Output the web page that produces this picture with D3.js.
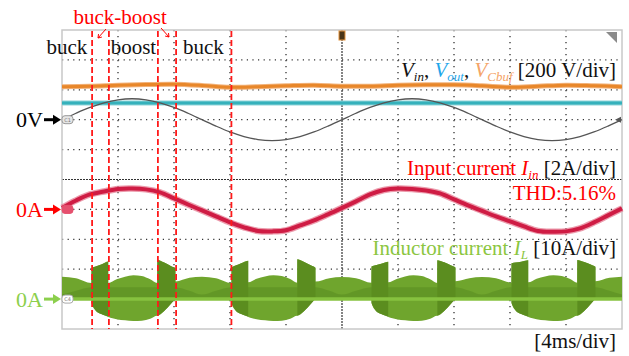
<!DOCTYPE html>
<html>
<head>
<meta charset="utf-8">
<script src="https://cdn.jsdelivr.net/npm/d3@7"></script>
<style>
  body { margin: 0; background: #fff; }
  svg { display: block; }
</style>
</head>
<body>
<div class="scope"></div>
<script>
// ---- data (time in ms, 4 ms/div) ----
var timeTicks = [0, 4, 8, 12, 16, 20, 24, 28, 32, 36, 40];

// Vin [V], one sample per ms
var vinT = d3.range(0, 41);
var vin = [0, 43, 82, 113, 133, 140, 133, 113, 82, 43, 0, -43, -82, -113, -133, -140, -133, -113, -82, -43,
           0, 43, 82, 113, 133, 140, 133, 113, 82, 43, 0, -43, -82, -113, -133, -140, -133, -113, -82, -43, 0];

// Vout [V]
var voutT = [0, 40];
var vout = [112, 112];

// VCbuf [V], every 2 ms
var vcbufT = [0, 2, 4, 6, 8, 10, 12, 14, 16, 18, 20, 22, 24, 26, 28, 30, 32, 34, 36, 38, 40];
var vcbuf = [221, 224, 231, 235, 237, 229, 217, 221, 227, 231, 224, 224, 231, 234, 234, 227, 217, 224, 231, 227, 221];

// Input current [A], one sample per ms
var iinT = d3.range(0, 41);
var iin = [0.1, 0.6, 1.0, 1.2, 1.37, 1.4, 1.34, 1.14, 0.74, 0.33, -0.07, -0.47, -0.87, -1.2, -1.44, -1.47, -1.4, -1.07, -0.74, -0.33,
           0.1, 0.54, 1.0, 1.3, 1.4, 1.37, 1.27, 1.07, 0.67, 0.27, -0.1, -0.47, -0.8, -1.14, -1.44, -1.5, -1.47, -1.27, -0.87, -0.4, 0.07];

// Inductor current envelope [A]
var ilT = [0, 1.0, 2.1,
  2.11, 2.4, 2.8, 3.3, 3.31, 3.9, 4.5, 5.1, 5.7, 6.3, 6.8, 6.81, 7.3, 7.8, 8.1, 8.11, 9.1, 10.0, 11.0, 12.1,
  12.11, 12.4, 12.8, 13.3, 13.31, 13.9, 14.5, 15.1, 15.7, 16.3, 16.8, 16.81, 17.3, 17.8, 18.1, 18.11, 19.1, 20.0, 21.0, 22.1,
  22.11, 22.4, 22.8, 23.3, 23.31, 23.9, 24.5, 25.1, 25.7, 26.3, 26.8, 26.81, 27.3, 27.8, 28.1, 28.11, 29.1, 30.0, 31.0, 32.1,
  32.11, 32.4, 32.8, 33.3, 33.31, 33.9, 34.5, 35.1, 35.7, 36.3, 36.8, 36.81, 37.3, 37.8, 38.1, 38.11, 39.1, 40.0];
var ilHigh = [7.5, 7.0, 5.4,
  10.4, 10.9, 11.6, 12.6, 5.4, 6.6, 7.5, 8.0, 7.7, 6.6, 5.4, 13.2, 12.2, 11.0, 10.4, 5.9, 7.1, 7.5, 7.0, 5.4,
  10.6, 11.2, 12.0, 12.8, 5.6, 6.8, 7.6, 8.0, 7.7, 6.7, 5.5, 13.3, 12.4, 11.2, 10.5, 5.9, 7.0, 7.4, 7.0, 5.5,
  10.9, 11.3, 11.8, 12.5, 5.6, 6.7, 7.6, 8.0, 7.7, 6.6, 5.4, 13.0, 12.3, 11.2, 10.6, 6.0, 7.0, 7.4, 7.0, 5.5,
  12.0, 12.2, 12.5, 13.0, 5.6, 6.8, 7.6, 8.0, 7.7, 6.7, 5.5, 13.1, 12.4, 11.5, 10.8, 6.0, 7.1, 7.5];
var ilLow = [0, 0, 0,
  -1.3, -3.8, -5.0, -5.9, -6.0, -6.7, -7.1, -7.3, -7.2, -6.6, -5.6, -5.6, -4.0, -1.5, 0, 0, 0, 0, 0, 0,
  -1.3, -3.8, -5.0, -5.9, -6.0, -6.7, -7.1, -7.3, -7.2, -6.6, -5.6, -5.6, -4.0, -1.5, 0, 0, 0, 0, 0, 0,
  -1.3, -3.8, -5.0, -5.9, -6.0, -6.7, -7.1, -7.3, -7.2, -6.6, -5.6, -5.6, -4.0, -1.5, 0, 0, 0, 0, 0, 0,
  -1.3, -3.8, -5.0, -5.9, -6.0, -6.7, -7.1, -7.3, -7.2, -6.6, -5.6, -5.6, -4.0, -1.5, 0, 0, 0, 0];

// buck-boost intervals (dense switching blocks) [ms]
var bbSpans = [[2.11, 3.3], [6.81, 8.1], [12.11, 13.3], [16.81, 18.1], [22.11, 23.3], [26.81, 28.1], [32.11, 33.3], [36.81, 38.1]];

// darker lower part inside buck intervals [A]
var buckInnerT = [0, 1.0, 2.1, 8.11, 9.1, 10.0, 11.0, 12.1, 18.11, 19.1, 20.0, 21.0, 22.1, 28.11, 29.1, 30.0, 31.0, 32.1, 38.11, 39.1, 40.0];
var buckInner = [1.5, 2.8, 4.0, 4.0, 2.8, 1.5, 2.8, 4.0, 4.0, 2.8, 1.5, 2.8, 4.0, 4.0, 2.8, 1.5, 2.8, 4.0, 4.0, 2.8, 1.5];

// operating mode boundaries [ms] and mode names
var modeLines = [2.15, 3.35, 6.85, 8.15, 12.1];
var modeNames = ["buck", "boost", "buck"];
var modeNameT = [0.35, 5.1, 10.1];

// ---- drawing ----
var W = 629, H = 356;
var svg = d3.select(".scope").append("svg").attr("width", W).attr("height", H)
  .style("font-family", "'Liberation Serif', 'Times New Roman', serif");

var x = d3.scaleLinear().domain([0, 40]).range([62, 622]);
var yDiv = d3.scaleLinear().domain([0, 10]).range([30, 329]);
var yV = d3.scaleLinear().domain([0, 200]).range([yDiv(3), yDiv(2)]);
var yI = d3.scaleLinear().domain([0, 2]).range([yDiv(6), yDiv(5)]);
var yL = d3.scaleLinear().domain([0, 10]).range([yDiv(9), yDiv(8)]);

// grid
var grid = svg.append("g");
grid.selectAll("line.v").data(timeTicks.filter(function (d) { return d > 0 && d < 40 && d !== 20; }))
  .enter().append("line")
  .attr("x1", function (d) { return x(d); }).attr("x2", function (d) { return x(d); })
  .attr("y1", yDiv(0)).attr("y2", yDiv(10))
  .attr("stroke", "#333").attr("stroke-width", 1.3).attr("stroke-dasharray", "1.2,4.8");
grid.selectAll("line.h").data(d3.range(1, 10).filter(function (d) { return d !== 5; }))
  .enter().append("line")
  .attr("x1", x(0)).attr("x2", x(40))
  .attr("y1", function (d) { return yDiv(d); }).attr("y2", function (d) { return yDiv(d); })
  .attr("stroke", "#333").attr("stroke-width", 1.3).attr("stroke-dasharray", "1.2,4.4");
grid.append("line").attr("x1", x(0)).attr("x2", x(40)).attr("y1", yDiv(5)).attr("y2", yDiv(5))
  .attr("stroke", "#333").attr("stroke-width", 1.2).attr("stroke-dasharray", "2,1");
grid.append("line").attr("x1", x(20)).attr("x2", x(20)).attr("y1", yDiv(0)).attr("y2", yDiv(10))
  .attr("stroke", "#333").attr("stroke-width", 1.2).attr("stroke-dasharray", "2,1");
grid.append("rect").attr("x", x(0)).attr("y", yDiv(0)).attr("width", x(40) - x(0)).attr("height", yDiv(10) - yDiv(0))
  .attr("fill", "none").attr("stroke", "#c8c8c8").attr("stroke-width", 1.5);

// inductor current envelope
var ilData = ilT.map(function (t, i) { return { t: t, hi: ilHigh[i], lo: ilLow[i] }; });
var ilArea = d3.area().x(function (d) { return x(d.t); })
  .y0(function (d) { return yL(d.lo); }).y1(function (d) { return yL(d.hi); })
  .curve(d3.curveMonotoneX);
svg.append("path").datum(ilData).attr("d", ilArea).attr("fill", "#6fa52d");

var innerData = buckInnerT.map(function (t, i) { return { t: t, hi: buckInner[i], lo: 0 }; });
svg.append("path").datum(innerData).attr("d", ilArea).attr("fill", "#5f9324").attr("opacity", 0.8);

bbSpans.forEach(function (s) {
  var seg = ilData.filter(function (d) { return d.t >= s[0] && d.t <= s[1]; });
  svg.append("path").datum(seg).attr("d", ilArea).attr("fill", "#5b8d1f");
});
svg.append("line").attr("x1", x(0)).attr("x2", x(40)).attr("y1", yL(0)).attr("y2", yL(0))
  .attr("stroke", "#86c23f").attr("stroke-width", 3.5);

// voltage traces
var vLine = function (ts, vs) {
  return d3.line().x(function (d, i) { return x(ts[i]); }).y(function (d) { return yV(d); })
    .curve(d3.curveCatmullRom)(vs);
};
svg.append("path").attr("d", vLine(vcbufT, vcbuf)).attr("fill", "none")
  .attr("stroke", "#f2b27a").attr("stroke-width", 5);
svg.append("path").attr("d", vLine(vcbufT, vcbuf)).attr("fill", "none")
  .attr("stroke", "#e8872a").attr("stroke-width", 3);
svg.append("path").attr("d", vLine(voutT, vout)).attr("fill", "none")
  .attr("stroke", "#8fd3d8").attr("stroke-width", 5);
svg.append("path").attr("d", vLine(voutT, vout)).attr("fill", "none")
  .attr("stroke", "#35b1bb").attr("stroke-width", 3);
svg.append("path").attr("d", vLine(vinT, vin)).attr("fill", "none")
  .attr("stroke", "#555").attr("stroke-width", 1.3);

// input current
var iLine = d3.line().x(function (d, i) { return x(iinT[i]); }).y(function (d) { return yI(d); })
  .curve(d3.curveCatmullRom);
svg.append("path").attr("d", iLine(iin)).attr("fill", "none")
  .attr("stroke", "#e57a90").attr("stroke-width", 6.5).attr("opacity", 0.75);
svg.append("path").attr("d", iLine(iin)).attr("fill", "none")
  .attr("stroke", "#cf1c44").attr("stroke-width", 4);

// mode boundaries
svg.selectAll("line.mode").data(modeLines).enter().append("line")
  .attr("x1", function (d) { return x(d); }).attr("x2", function (d) { return x(d); })
  .attr("y1", yDiv(0) + 1).attr("y2", yDiv(10))
  .attr("stroke", "#ff1a1a").attr("stroke-width", 1.8).attr("stroke-dasharray", "6,3");

// scope markers
svg.append("rect").attr("x", x(20) - 3).attr("y", 31).attr("width", 6).attr("height", 9)
  .attr("fill", "#4a3518").attr("stroke", "#e3923a").attr("stroke-width", 1);
svg.append("path").attr("d", "M606,32L617,32L617,43Z").attr("fill", "#8a8a8a");
svg.append("path").attr("d", "M615," + yV(0) + "L621," + (yV(0) - 3) + "L621," + (yV(0) + 3) + "Z").attr("fill", "#555");

var chMarks = [
  { y: yV(0), fill: "#e6e6e6", stroke: "#999", txt: "C1", tc: "#777" },
  { y: yI(0), fill: "#e5506e", stroke: "#e5506e", txt: "", tc: "#fff" },
  { y: yL(0), fill: "#fff", stroke: "#aaa", txt: "C4", tc: "#777" }
];
chMarks.forEach(function (m) {
  svg.append("rect").attr("x", 62).attr("y", m.y - 4).attr("width", 11).attr("height", 8).attr("rx", 3)
    .attr("fill", m.fill).attr("stroke", m.stroke).attr("stroke-width", 1);
  svg.append("text").attr("x", 67.5).attr("y", m.y + 2).attr("text-anchor", "middle")
    .attr("font-size", 5).attr("font-family", "DejaVu Sans").attr("fill", m.tc).text(m.txt);
});

// left zero labels with arrows
var zeroLabels = [
  { y: yV(0), txt: "0V", c: "#000" },
  { y: yI(0), txt: "0A", c: "#ff0000" },
  { y: yL(0), txt: "0A", c: "#8ccf4d" }
];
zeroLabels.forEach(function (z) {
  svg.append("text").attr("x", 16).attr("y", z.y + 7.5).attr("font-size", 22).attr("fill", z.c).text(z.txt);
  svg.append("line").attr("x1", 44).attr("x2", 54).attr("y1", z.y).attr("y2", z.y)
    .attr("stroke", z.c).attr("stroke-width", 3);
  svg.append("path").attr("d", "M53," + (z.y - 5) + "L61," + z.y + "L53," + (z.y + 5) + "Z").attr("fill", z.c);
});

// mode labels
svg.selectAll("text.mode").data(modeNames).enter().append("text")
  .attr("x", function (d, i) { return x(modeNameT[i]); }).attr("y", 54)
  .attr("text-anchor", "middle").attr("font-size", 21).attr("fill", "#111").text(function (d) { return d; });
svg.append("text").attr("x", x(4.15)).attr("y", 24).attr("text-anchor", "middle")
  .attr("font-size", 21).attr("fill", "#ff0000").text("buck-boost");
// small pointers to the buck-boost intervals
[[106, 29, 98, 38], [161, 28, 169, 37]].forEach(function (a) {
  var ang = Math.atan2(a[3] - a[1], a[2] - a[0]);
  svg.append("line").attr("x1", a[0]).attr("y1", a[1]).attr("x2", a[2]).attr("y2", a[3])
    .attr("stroke", "#ff0000").attr("stroke-width", 1);
  var h = 4;
  svg.append("path").attr("d",
    "M" + (a[2] - h * Math.cos(ang - 0.6)) + "," + (a[3] - h * Math.sin(ang - 0.6)) +
    "L" + a[2] + "," + a[3] +
    "L" + (a[2] - h * Math.cos(ang + 0.6)) + "," + (a[3] - h * Math.sin(ang + 0.6)))
    .attr("fill", "none").attr("stroke", "#ff0000").attr("stroke-width", 1);
});

// channel labels (right aligned)
function label(y, parts, size) {
  var t = svg.append("text").attr("x", 616).attr("y", y).attr("text-anchor", "end").attr("font-size", size);
  parts.forEach(function (p) {
    var s = t.append("tspan").text(p.s).attr("fill", p.c);
    if (p.i) s.attr("font-style", "italic");
    if (p.sub) s.attr("font-size", size * 0.62).attr("dy", 4);
    if (p.up) s.attr("dy", -4);
  });
}
label(77, [
  { s: "V", c: "#111", i: 1 }, { s: "in", c: "#111", i: 1, sub: 1 }, { s: ", ", c: "#111", up: 1 },
  { s: "V", c: "#1fa7ea", i: 1 }, { s: "out", c: "#1fa7ea", i: 1, sub: 1 }, { s: ", ", c: "#111", up: 1 },
  { s: "V", c: "#f5a468", i: 1 }, { s: "Cbuf", c: "#f5a468", i: 1, sub: 1 }, { s: " [200 V/div]", c: "#111", up: 1 }
], 21);
label(175, [
  { s: "Input current ", c: "#ff0000" }, { s: "I", c: "#ff0000", i: 1 }, { s: "in", c: "#ff0000", i: 1, sub: 1 },
  { s: " [2A/div]", c: "#111", up: 1 }
], 21);
label(200, [{ s: "THD:5.16%", c: "#ff0000" }], 21);
label(255, [
  { s: "Inductor current ", c: "#8cc63f" }, { s: "I", c: "#8cc63f", i: 1 }, { s: "L", c: "#8cc63f", i: 1, sub: 1 },
  { s: " [10A/div]", c: "#111", up: 1 }
], 21);
label(348, [{ s: "[4ms/div]", c: "#111" }], 21);
</script>
</body>
</html>
